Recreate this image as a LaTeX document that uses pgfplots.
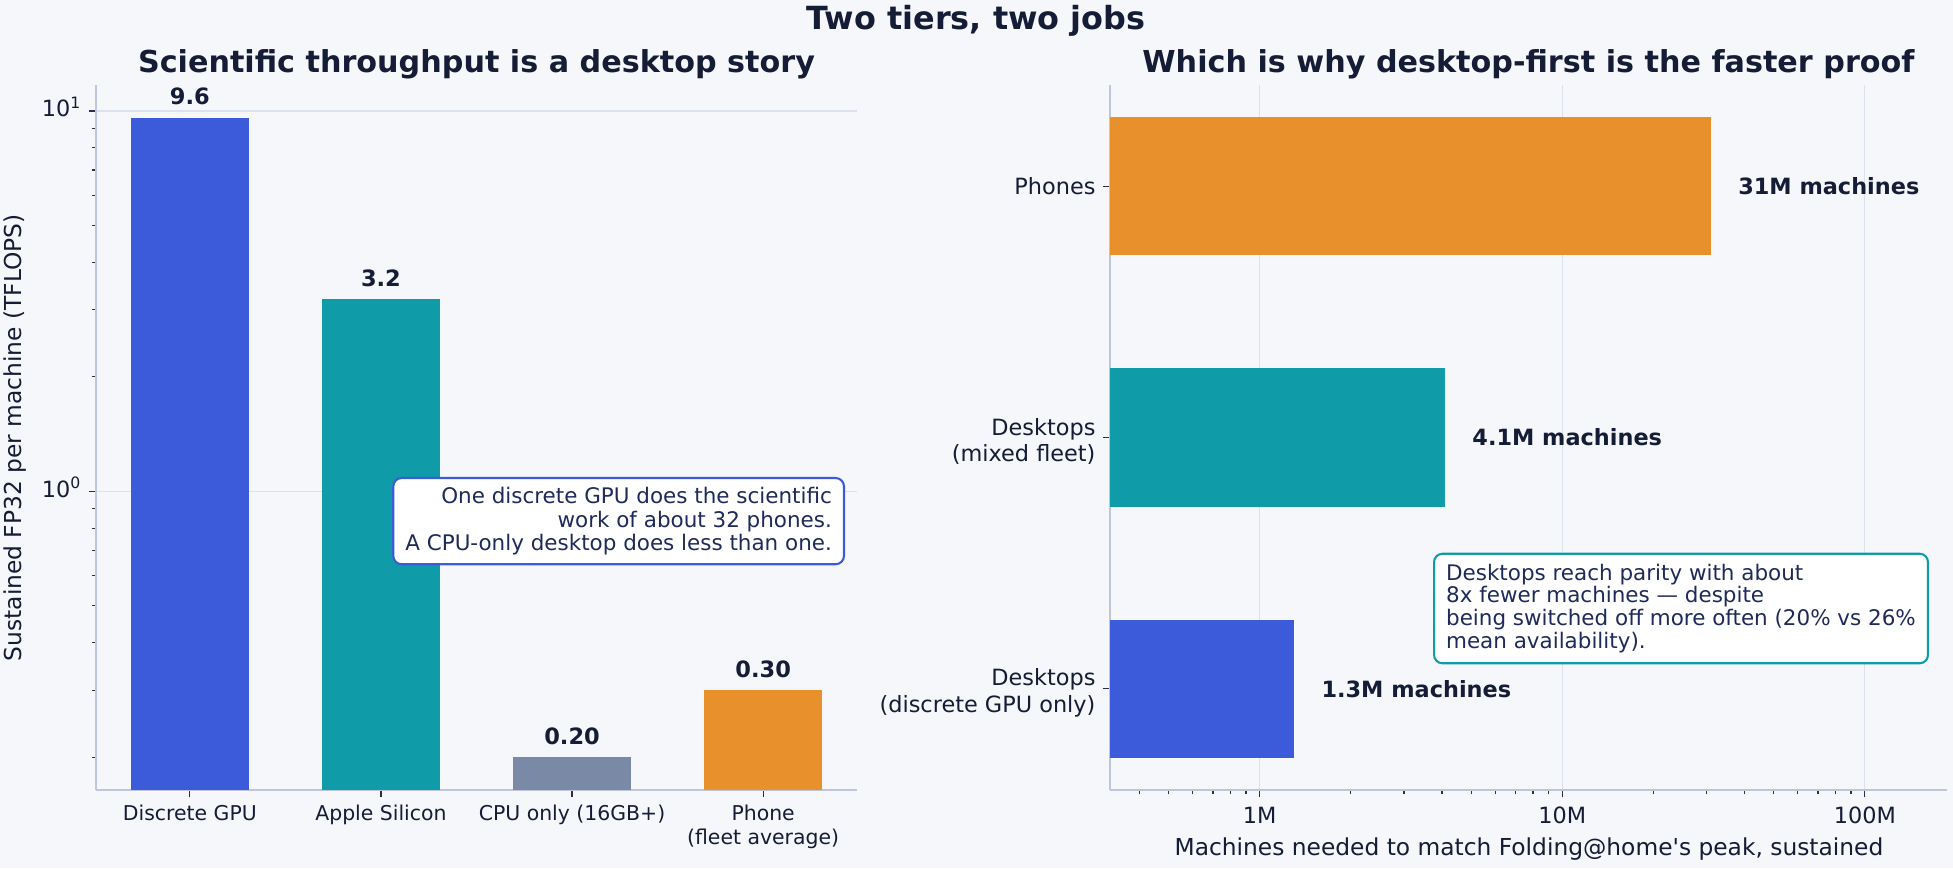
\documentclass[border=0pt]{standalone}
\usepackage{pgfplots}
\pgfplotsset{compat=1.18}
\usepackage{fontspec}
\setmainfont{DejaVu Sans}[Ligatures=TeXOff]
\definecolor{bgc}{HTML}{F6F7FB}
\definecolor{cblue}{HTML}{3B5BDB}
\definecolor{cteal}{HTML}{0F9CA8}
\definecolor{cgray}{HTML}{7A89A6}
\definecolor{corange}{HTML}{E8912C}
\definecolor{textc}{HTML}{151C36}
\definecolor{annc}{HTML}{1E2A5A}
\definecolor{spinec}{HTML}{BFC6DC}
\definecolor{gridc}{HTML}{DCE1EE}
\definecolor{tickc}{HTML}{2A3048}
\pgfplotsset{
  common/.style={
    scale only axis, anchor=south west,
    axis x line*=bottom, axis y line*=left,
    axis line style={draw=spinec, line width=1bp},
    tick align=outside, major tick length=3.5bp, minor tick length=2bp,
    every tick/.style={draw=tickc, line width=0.6bp},
    major grid style={draw=gridc, line width=0.6bp},
    point meta=explicit symbolic,
    nodes near coords,
    clip=false,
  }
}
\begin{document}
\begin{tikzpicture}
\fill[bgc] (0,0) rectangle (937.44bp,416.64bp);

% Left panel
\begin{axis}[common,
  at={(46.08bp,37.44bp)}, width=365.28bp, height=338.4bp,
  ymode=log, log origin y=infty,
  ymin=0.164, ymax=11.7, xmin=-0.491, xmax=3.491,
  ybar, bar width=0.62,
  xtick={0,1,2,3},
  xticklabels={Discrete GPU, Apple Silicon, CPU only (16GB+), Phone\\(fleet average)},
  ytick={1,10}, yticklabels={10\textsuperscript{0},10\textsuperscript{1}},
  minor ytick={0.2,0.3,0.4,0.5,0.6,0.7,0.8,0.9,2,3,4,5,6,7,8,9},
  ymajorgrids,
  typeset ticklabels with strut,
  xticklabel style={font=\fontsize{9.8bp}{11.2bp}\selectfont, align=center, text=textc},
  yticklabel style={font=\fontsize{10.75bp}{12.9bp}\selectfont, text=textc},
  nodes near coords style={font=\fontsize{10.8bp}{13bp}\selectfont\bfseries, anchor=base, yshift=6.3bp, text=textc},
]
\addplot[fill=cblue, draw=none, bar shift=0pt] coordinates {(0,9.6) [9.6]};
\addplot[fill=cteal, draw=none, bar shift=0pt] coordinates {(1,3.2) [3.2]};
\addplot[fill=cgray, draw=none, bar shift=0pt] coordinates {(2,0.20) [0.20]};
\addplot[fill=corange, draw=none, bar shift=0pt] coordinates {(3,0.30) [0.30]};
\end{axis}

% Right panel
\begin{axis}[common,
  at={(532.8bp,37.44bp)}, width=401.76bp, height=338.4bp,
  xmode=log, log origin x=infty,
  xmin=3.2e5, xmax=1.87e8, ymin=-0.4025, ymax=2.4025,
  xbar, bar width=0.55,
  xtick={1e6,1e7,1e8}, xticklabels={1M,10M,100M},
  minor xtick={4e5,5e5,6e5,7e5,8e5,9e5,2e6,3e6,4e6,5e6,6e6,7e6,8e6,9e6,2e7,3e7,4e7,5e7,6e7,7e7,8e7,9e7},
  ytick={0,1,2},
  yticklabels={Desktops\\(discrete GPU only), Desktops\\(mixed fleet), Phones},
  xmajorgrids,
  typeset ticklabels with strut,
  xticklabel style={font=\fontsize{10.75bp}{12.9bp}\selectfont, text=textc},
  yticklabel style={font=\fontsize{10.75bp}{12.6bp}\selectfont, align=right, text=textc, yshift=-1.6bp},
  nodes near coords style={font=\fontsize{10.75bp}{13bp}\selectfont\bfseries, anchor=west, xshift=9.6bp, text=textc},
]
\addplot[fill=cblue, draw=none, bar shift=0pt] coordinates {(1300000,0) [1.3M machines]};
\addplot[fill=cteal, draw=none, bar shift=0pt] coordinates {(4100000,1) [4.1M machines]};
\addplot[fill=corange, draw=none, bar shift=0pt] coordinates {(31000000,2) [31M machines]};
\end{axis}

% Titles and labels
\node[anchor=base, font=\fontsize{15.3bp}{18bp}\selectfont\bfseries, text=textc] at (468.48bp,402.24bp) {Two tiers, two jobs};
\node[anchor=base, font=\fontsize{14.5bp}{17bp}\selectfont\bfseries, text=textc] at (228.72bp,382bp) {Scientific throughput is a desktop story};
\node[anchor=base, font=\fontsize{14.5bp}{17bp}\selectfont\bfseries, text=textc] at (733.68bp,382bp) {Which is why desktop-first is the faster proof};
\node[rotate=90, font=\fontsize{11.2bp}{13bp}\selectfont, text=textc] at (7.44bp,206.5bp) {Sustained FP32 per machine (TFLOPS)};
\node[anchor=base, font=\fontsize{11.2bp}{13bp}\selectfont, text=textc] at (733.9bp,6.24bp) {Machines needed to match Folding@home's peak, sustained};

% Annotations
\node[draw=cblue, line width=1bp, fill=white, rounded corners=4bp, align=right, anchor=north east,
  inner xsep=5.8bp, inner ysep=4.5bp, text=annc, font=\fontsize{10.3bp}{11.2bp}\selectfont]
  at (405.6bp,187.68bp) {One discrete GPU does the scientific\\work of about 32 phones.\\A CPU-only desktop does less than one.};
\node[draw=cteal, line width=1bp, fill=white, rounded corners=4bp, align=left, anchor=north west,
  inner xsep=5.8bp, inner ysep=4.8bp, text=annc, font=\fontsize{10.3bp}{11bp}\selectfont]
  at (687.84bp,151.34bp) {Desktops reach parity with about\\8x fewer machines — despite\\being switched off more often (20\% vs 26\%\\mean availability).};

\pgfresetboundingbox
\useasboundingbox (0,0) rectangle (937.44bp,416.64bp);
\end{tikzpicture}
\end{document}
